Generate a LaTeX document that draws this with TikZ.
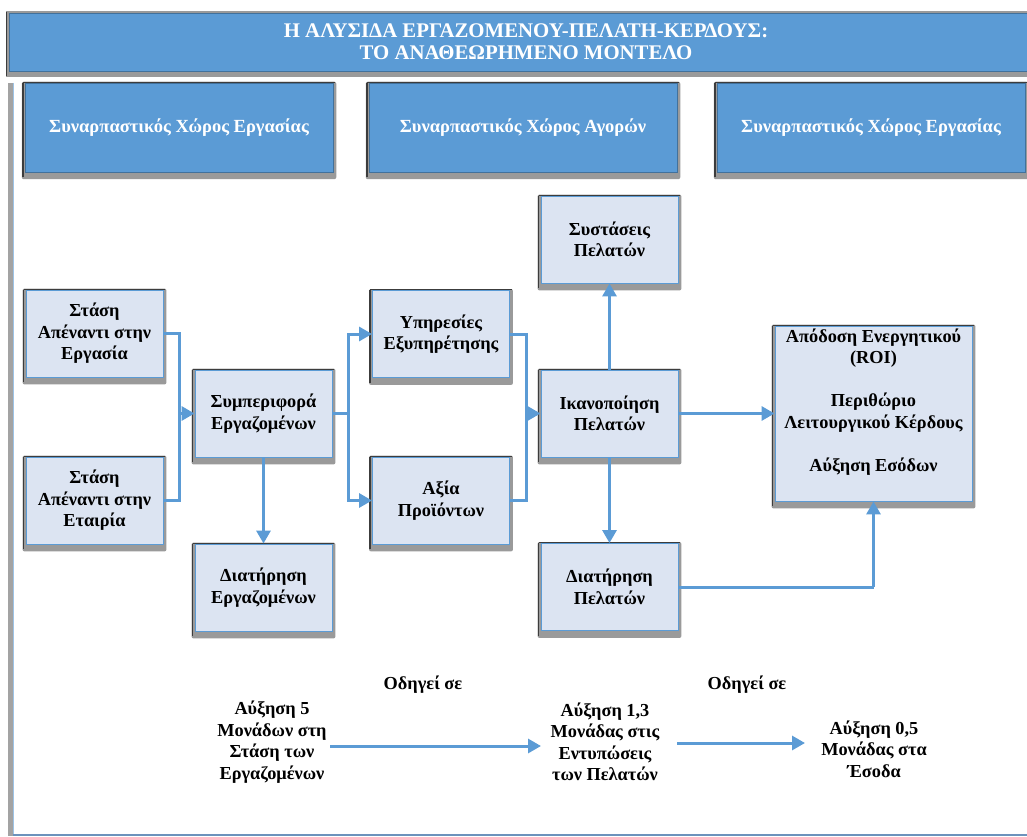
\documentclass[tikz,border=0pt]{standalone}
\usepackage{fontspec}
\setmainfont{Liberation Serif}
\usetikzlibrary{arrows.meta,calc,backgrounds}

\definecolor{hdrblue}{HTML}{5B9BD5}
\definecolor{hdredge}{HTML}{41719C}
\definecolor{boxfill}{HTML}{DCE4F2}
\definecolor{shadowgray}{HTML}{9A9A9A}
\definecolor{darkedge}{HTML}{3C3C3C}
\definecolor{framegray}{HTML}{A3A3A3}
\definecolor{frameblue}{HTML}{6C92BC}

\tikzset{
  boxfont/.style={font=\bfseries\fontsize{18.3}{21.5}\selectfont},
  flowbox/.style={boxfont, draw=hdrblue, line width=0.9pt, fill=boxfill,
    minimum width=137pt, minimum height=87pt, inner sep=2pt, align=center},
  hdrbox/.style={fill=hdrblue, draw=hdredge, line width=0.5pt,
    minimum width=308pt, minimum height=89pt, inner sep=2pt, text=white,
    font=\bfseries\fontsize{18.5}{21}\selectfont},
  plainlink/.style={draw=hdrblue, line width=3pt},
  link/.style={plainlink, -{Triangle[length=13pt,width=14pt]}},
  note/.style={boxfont, align=center, inner sep=0pt},
}

% grey drop shadow with a dark left edge, drawn behind a named box
\newcommand\boxshade[1]{%
  \fill[shadowgray, rounded corners=2pt] ($(#1.north west)+(-3,-1)$) rectangle ($(#1.south east)+(3,7)$);
  \draw[darkedge, line width=1.6pt] ($(#1.north west)+(-2,0)$) -- ($(#1.south west)+(-2,5)$);
  \draw[darkedge, line width=0.8pt] ($(#1.north west)+(-2,-0.6)$) -- ($(#1.north east)+(2,-0.6)$);
}

\begin{document}
\begin{tikzpicture}[x=1pt,y=-1pt]
  \useasboundingbox (0,0) rectangle (1027,837);
  \clip (0,0) rectangle (1027,837);

  % title bar
  \node[fill=hdrblue, draw=hdredge, line width=0.6pt, minimum width=1040pt,
        minimum height=58pt, anchor=north west, inner sep=0pt] (title) at (9,13) {};
  \node[text=white, align=center, font=\bfseries\fontsize{20.8}{22}\selectfont]
        (titletext) at (526,41.5)
        {Η ΑΛΥΣΙΔΑ ΕΡΓΑΖΟΜΕΝΟΥ-ΠΕΛΑΤΗ-ΚΕΡΔΟΥΣ:\\ΤΟ ΑΝΑΘΕΩΡΗΜΕΝΟ ΜΟΝΤΕΛΟ};

  % column headers
  \node[hdrbox] (h1) at (179,127.5) {Συναρπαστικός Χώρος Εργασίας};
  \node[hdrbox] (h2) at (523,127.5) {Συναρπαστικός Χώρος Αγορών};
  \node[hdrbox] (h3) at (871,127.5) {Συναρπαστικός Χώρος Εργασίας};

  % boxes of the chain
  \node[flowbox] (a1) at (94.5,333.5) {Στάση\\Απέναντι στην\\Εργασία};
  \node[flowbox] (a2) at (94.5,500.5) {Στάση\\Απέναντι στην\\Εταιρία};
  \node[flowbox] (b)  at (263.5,413.5) {Συμπεριφορά\\Εργαζομένων};
  \node[flowbox] (c)  at (263.5,587.5) {Διατήρηση\\Εργαζομένων};
  \node[flowbox] (d)  at (441,334) {Υπηρεσίες\\Εξυπηρέτησης};
  \node[flowbox] (e)  at (441,500.5) {Αξία\\Προϊόντων};
  \node[flowbox] (f)  at (609.5,239.5) {Συστάσεις\\Πελατών};
  \node[flowbox] (g)  at (609.5,413.5) {Ικανοποίηση\\Πελατών};
  \node[flowbox] (h)  at (609.5,587) {Διατήρηση\\Πελατών};
  \node[flowbox, minimum width=197pt, minimum height=175pt] (roi) at (873.5,413.5) {};
  \node[note, anchor=north] (roitext) at (873.5,328.5)
        {Απόδοση Ενεργητικού\\(ROI)\\[21.5pt]Περιθώριο\\Λειτουργικού Κέρδους\\[21.5pt]Αύξηση Εσόδων};

  \begin{scope}[on background layer]
    % outer frame
    \fill[framegray] (8,83) rectangle (12.5,836);
    \draw[hdrblue!60, line width=1pt] (13.5,83) -- (13.5,834);
    \draw[frameblue, line width=2.2pt] (12.5,834.8) -- (1030,834.8);
    % title bar shadow
    \fill[shadowgray] (6,11) rectangle (1040,77);
    \draw[darkedge, line width=0.8pt] (6.5,12) -- (6.5,76);
    \foreach \n in {h1,h2,h3,a1,a2,b,c,d,e,f,g,h,roi} {\boxshade{\n}}
  \end{scope}

  % connectors
  \coordinate (ja) at (179,413.5);
  \coordinate (jb) at (348,413.5);
  \coordinate (jd) at (526,413.5);
  \coordinate (jh) at (873.5,587);
  \draw[plainlink] (a1.east) -| (ja);
  \draw[plainlink] (a2.east) -| (ja);
  \draw[link] (ja) -- (b.west);
  \draw[plainlink] (b.east) -- (jb);
  \draw[link] (jb) |- (d.west);
  \draw[link] (jb) |- (e.west);
  \draw[link] (b.south) -- (c.north);
  \draw[plainlink] (d.east) -| (jd);
  \draw[plainlink] (e.east) -| (jd);
  \draw[link] (jd) -- (g.west);
  \draw[link] (g.north) -- (f.south);
  \draw[link] (g.south) -- (h.north);
  \draw[link] (g.east) -- (roi.west);
  \draw[plainlink] (h.east) -- (jh);
  \draw[link] (jh) -- (roi.south);

  % effect sizes along the chain
  \node[note] (s1) at (272,742) {Αύξηση 5\\Μονάδων στη\\Στάση των\\Εργαζομένων};
  \node[note] (s2) at (605,742) {Αύξηση 1,3\\Μονάδας στις\\Εντυπώσεις\\των Πελατών};
  \node[note] (s3) at (874,749) {Αύξηση 0,5\\Μονάδας στα\\Έσοδα};
  \node[note] (l1) at (423,685) {Οδηγεί σε};
  \node[note] (l2) at (747,685) {Οδηγεί σε};
  \coordinate (s1r) at (330,746);
  \coordinate (s2l) at (541,746);
  \coordinate (s2r) at (677,743);
  \coordinate (s3l) at (805,743);
  \draw[link] (s1r) -- (s2l);
  \draw[link] (s2r) -- (s3l);
\end{tikzpicture}
\end{document}
